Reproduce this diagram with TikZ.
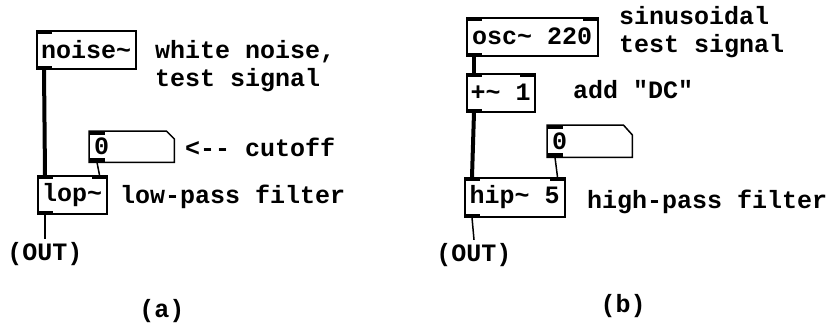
\documentclass[tikz,border=0pt]{standalone}
\usepackage{fontspec}
\setmainfont{Liberation Mono}
\usetikzlibrary{calc}

\tikzset{
  obj/.style={draw, line width=1.5pt, inner sep=0pt, minimum height=38pt, anchor=north west},
  numbox/.style={inner xsep=5pt, inner ysep=0pt, minimum height=31pt, anchor=north west, align=left},
  sig/.style={line width=4pt},
  ctl/.style={line width=1.5pt},
  note/.style={anchor=west, inner sep=0pt, align=left},
}

\begin{document}
\begin{tikzpicture}[x=1pt,y=-1pt,font=\fontsize{25}{28}\selectfont\bfseries]
  \useasboundingbox (0,0) rectangle (833,324);

  % (a) noise through a low-pass filter
  \node[obj, minimum width=99pt] (noise) at (36,30) {noise\textasciitilde};
  \fill (noise.north west) rectangle ++(16,4);
  \fill (noise.south west) rectangle ++(16,-4);
  \node[note] (noisetxt) at (155,66) {white noise,\\test signal};

  \node[numbox, text width=75pt] (cuta) at (89,131) {0};
  \draw[ctl] (cuta.north west) -- ($(cuta.north east)+(-8,0)$) -- ($(cuta.north east)+(0,8)$)
    -- (cuta.south east) -- (cuta.south west) -- cycle;
  \fill (cuta.north west) rectangle ++(16,4);
  \fill (cuta.south west) rectangle ++(16,-4);
  \node[note] (cutatxt) at (185,147) {<-{}- cutoff};

  \node[obj, minimum width=69pt] (lop) at (37,175) {lop\textasciitilde};
  \fill (lop.north west) rectangle ++(16,4);
  \fill (lop.north east) rectangle ++(-16,4);
  \fill (lop.south west) rectangle ++(16,-4);
  \node[note] (loptxt) at (120,197) {low-pass filter};

  \node (outa) at (45,254) {(OUT)};
  \draw[sig] ($(noise.south west)+(8,0)$) -- ($(lop.north west)+(8,0)$);
  \draw[ctl] ($(cuta.south west)+(8,0)$) -- ($(lop.north east)+(-8,0)$);
  \draw[ctl] ($(lop.south west)+(8,0)$) -- (outa.north);
  \node (capa) at (162,311) {(a)};

  % (b) sine plus DC through a high-pass filter
  \node[obj, minimum width=131pt] (osc) at (466,17) {osc\textasciitilde{} 220};
  \fill (osc.north west) rectangle ++(16,4);
  \fill (osc.north east) rectangle ++(-16,4);
  \fill (osc.south west) rectangle ++(16,-4);
  \node[note] (osctxt) at (619,32) {sinusoidal\\test signal};

  \node[obj, minimum width=68pt] (add) at (466,73) {+\textasciitilde{} 1};
  \fill (add.north west) rectangle ++(16,4);
  \fill (add.north east) rectangle ++(-16,4);
  \fill (add.south west) rectangle ++(16,-4);
  \node[note] (addtxt) at (573,90) {add \textquotedbl DC\textquotedbl};

  \node[numbox, text width=75pt, minimum height=32pt] (cutb) at (547,125) {0};
  \draw[ctl] (cutb.north west) -- ($(cutb.north east)+(-9,0)$) -- ($(cutb.north east)+(0,10)$)
    -- (cutb.south east) -- (cutb.south west) -- cycle;
  \fill (cutb.north west) rectangle ++(16,4);
  \fill (cutb.south west) rectangle ++(16,-4);

  \node[obj, minimum width=100pt, minimum height=39pt] (hip) at (464,177) {hip\textasciitilde{} 5};
  \fill (hip.north west) rectangle ++(16,4);
  \fill (hip.north east) rectangle ++(-16,4);
  \fill (hip.south west) rectangle ++(16,-4);
  \node[note] (hiptxt) at (587,202) {high-pass filter};

  \node (outb) at (474,255) {(OUT)};
  \draw[sig] ($(osc.south west)+(8,0)$) -- ($(add.north west)+(8,0)$);
  \draw[sig] ($(add.south west)+(8,0)$) -- ($(hip.north west)+(8,0)$);
  \draw[ctl] ($(cutb.south west)+(8,0)$) -- ($(hip.north east)+(-8,0)$);
  \draw[ctl] ($(hip.south west)+(8,0)$) -- (outb.north);
  \node (capb) at (623,306) {(b)};
\end{tikzpicture}
\end{document}
